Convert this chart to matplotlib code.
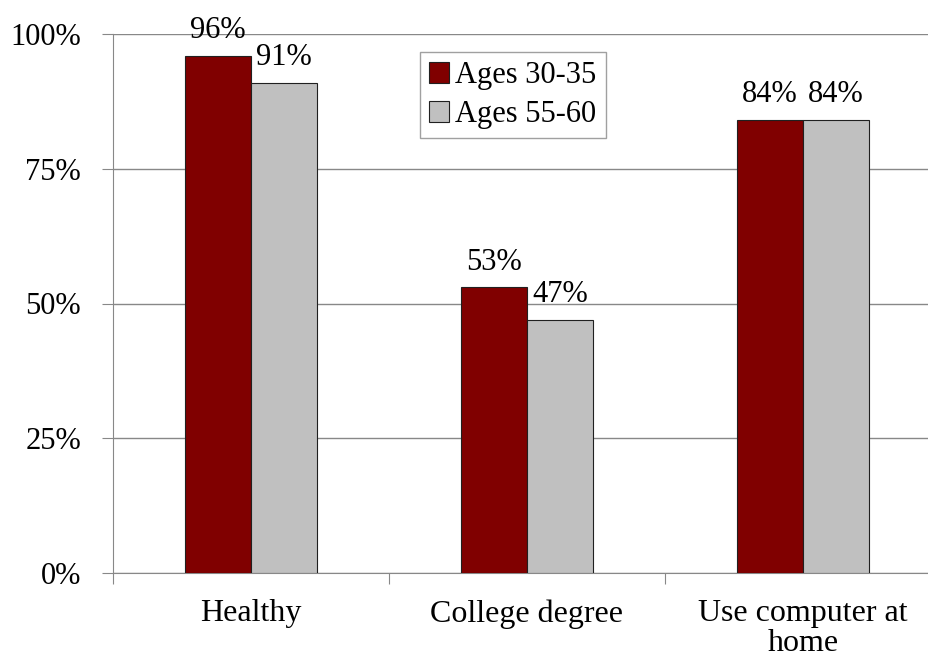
import numpy as np
import matplotlib
matplotlib.use("Agg")
import matplotlib.pyplot as plt

categories = ["Healthy", "College degree", "Use computer at\nhome"]
ages_30_35 = [96, 53, 84]
ages_55_60 = [91, 47, 84]
series_names = ["Ages 30-35", "Ages 55-60"]
yticks = [0, 25, 50, 75, 100]

plt.rcParams['font.family'] = ['Liberation Serif', 'DejaVu Serif']

fig = plt.figure(figsize=(9.29, 6.59), dpi=100)
# axes runs a little past the right edge, like the original
ax = fig.add_axes([113 / 929, 86 / 659, 828 / 929, 539 / 659])

x = np.arange(len(categories))
w = 0.239
b1 = ax.bar(x - w / 2, ages_30_35, w, color="#800000", edgecolor="#202020",
            linewidth=0.8, label=series_names[0], zorder=3)
b2 = ax.bar(x + w / 2, ages_55_60, w, color="#c0c0c0", edgecolor="#202020",
            linewidth=0.8, label=series_names[1], zorder=3)

for bars in (b1, b2):
    for r in bars:
        ax.text(r.get_x() + r.get_width() / 2, r.get_height() + 2.0,
                "%d%%" % r.get_height(), ha="center", va="bottom", fontsize=22)

ax.set_xlim(-0.5, 2.5)
ax.set_ylim(0, 100)
ax.set_yticks(yticks)
ax.set_yticklabels(["%d%%" % t for t in yticks], fontsize=22)
ax.yaxis.grid(True, color="#888888", linewidth=1, zorder=0)

ax.set_xticks([-0.5, 0.5, 1.5, 2.5])
ax.set_xticklabels([])
ax.set_xticks(x, minor=True)
ax.set_xticklabels(categories, minor=True, fontsize=23, linespacing=1.05)
ax.tick_params(axis="x", which="minor", length=0, pad=19)
ax.tick_params(axis="x", which="major", length=8, color="#888888", direction="out")
ax.tick_params(axis="y", length=8, color="#888888", pad=15)

for s in ("top", "right"):
    ax.spines[s].set_visible(False)
for s in ("left", "bottom"):
    ax.spines[s].set_color("#888888")

leg = ax.legend(loc="upper left", bbox_to_anchor=(307 / 828, 1 - 18 / 539),
                fontsize=22, frameon=True, fancybox=False, handlelength=0.65,
                handleheight=0.65, handletextpad=0.2, borderpad=0.3,
                labelspacing=0.33, borderaxespad=0)
leg.get_frame().set_edgecolor("#888888")
leg.get_frame().set_linewidth(1)

fig.savefig("out.png", dpi=100)
